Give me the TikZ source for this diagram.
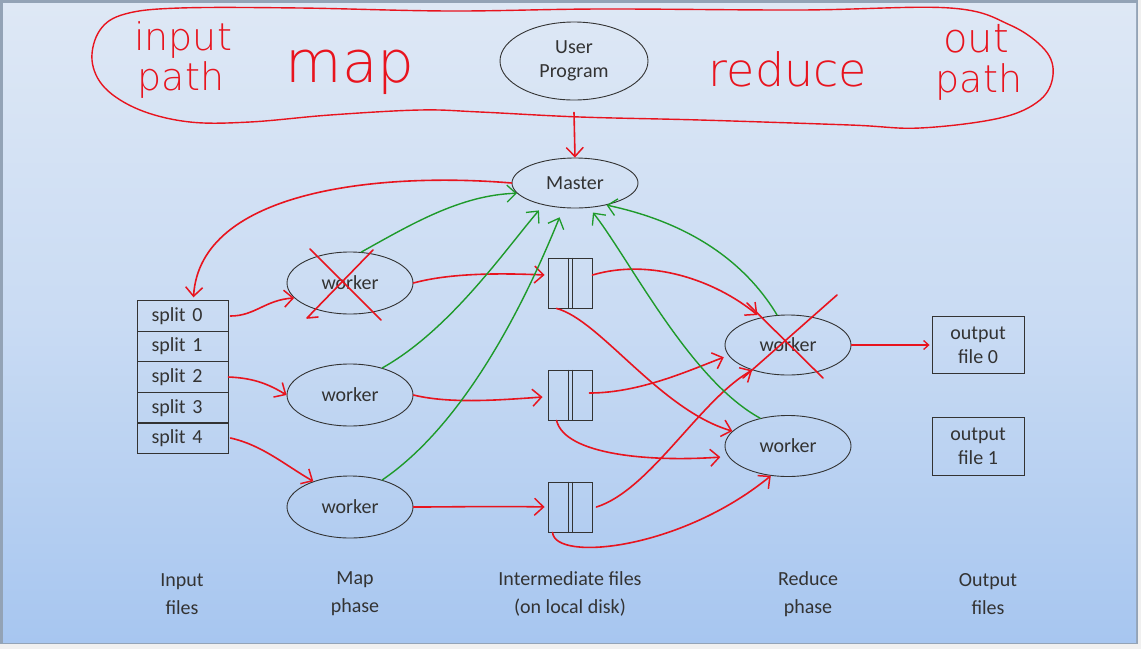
\documentclass[tikz,border=0pt]{standalone}
\usepackage{fontspec}
\setmainfont{Carlito}
\newfontfamily\handfont{DejaVu Sans ExtraLight}
\usetikzlibrary{arrows.meta,shapes.geometric,calc}
\definecolor{pen}{HTML}{E8141E}
\definecolor{gpen}{HTML}{1E9A2A}
\definecolor{slidetop}{HTML}{DEE8F5}
\definecolor{slidemid}{HTML}{C9DBF3}
\definecolor{slidebot}{HTML}{A7C6F0}
\definecolor{framec}{HTML}{93A3B6}
\definecolor{ink}{HTML}{333333}
\tikzset{
  txt/.style={font=\fontsize{20}{24.5}\selectfont, text=ink},
  ell/.style={draw=ink, ellipse, line width=0.9pt, inner sep=0pt, txt},
  box/.style={draw=ink, rectangle, line width=0.9pt, inner sep=0pt, txt},
  lbl/.style={font=\fontsize{20}{28}\selectfont, text=ink, align=center},
  redarr/.style={draw=pen, line width=1.6pt, line cap=round, line join=round,
     -{Straight Barb[length=9pt,width=17pt,line width=1.5pt]}},
  greenarr/.style={draw=gpen, line width=1.4pt, line cap=round, line join=round,
     -{Straight Barb[length=9pt,width=17pt,line width=1.3pt]}},
  redpen/.style={draw=pen, line width=1.6pt, line cap=round, line join=round},
  hand/.style={text=pen, font=\handfont\fontsize{38}{38}\selectfont, inner sep=0pt},
}
\begin{document}
\begin{tikzpicture}[x=1pt,y=-1pt]
\useasboundingbox (0,0) rectangle (1141,649);
% frame and background
\fill[color=black!6] (0,0) rectangle (1141,649);
\fill[framec] (0,0) rectangle (1138,644);
\shade[top color=slidetop, bottom color=slidebot, middle color=slidemid] (3,3) rectangle (1136,642);

% handwritten loop
\draw[redpen, line width=1.4pt] plot[smooth cycle, tension=0.6] coordinates {
 (92,60) (100,30) (125,14) (180,8) (300,8) (450,11) (600,9) (800,10) (950,8)
 (1010,25) (1045,50) (1053,75) (1040,100) (1000,118) (920,128) (850,125)
 (700,120) (580,117) (480,112) (420,110) (330,115) (250,122) (190,122)
 (140,110) (105,88)};

% handwritten words
\node[hand, anchor=base] (hinput) at (183,50) {input};
\node[hand, anchor=base] (hpath) at (181,90) {path};
\node[hand, anchor=base, font=\handfont\fontsize{58}{60}\selectfont] (hmap) at (350,82) {map};
\node[hand, anchor=base, font=\handfont\fontsize{46}{50}\selectfont] (hreduce) at (788,86) {reduce};
\node[hand, anchor=base, font=\handfont\fontsize{40}{40}\selectfont] (hout) at (976,52) {out};
\node[hand, anchor=base] (hpath2) at (979,92) {path};

% main nodes
\node[ell, minimum width=148pt, minimum height=78pt, align=center] (up) at (574,61) {User\\Program};
\node[ell, minimum width=126pt, minimum height=50pt] (master) at (575,183) {Master};

\foreach \i/\y in {0/316,1/346.5,2/377,3/408,4/438}{
  \node[box, minimum width=91pt, minimum height=30.5pt, text width=62pt, align=left, inner xsep=14.5pt] (split\i) at (182.5,\y) {split \i};
}

\node[ell, minimum width=126pt, minimum height=62pt] (mw1) at (350,283) {worker};
\node[ell, minimum width=126pt, minimum height=62pt] (mw2) at (350,395) {worker};
\node[ell, minimum width=126pt, minimum height=62pt] (mw3) at (350,507) {worker};

\foreach \i/\y in {1/283,2/395,3/507}{
  \node[box, minimum width=44pt, minimum height=50pt] (f\i) at (570,\y) {};
  \draw[ink, line width=0.9pt] ([xshift=-2pt]f\i.north) -- ([xshift=-2pt]f\i.south);
  \draw[ink, line width=0.9pt] ([xshift=2pt]f\i.north) -- ([xshift=2pt]f\i.south);
}

\node[ell, minimum width=126pt, minimum height=60pt] (rw1) at (788,345) {worker};
\node[ell, minimum width=126pt, minimum height=61pt] (rw2) at (788,446) {worker};

\node[box, minimum width=92pt, minimum height=57pt, align=center] (out0) at (978,345) {output\\file 0};
\node[box, minimum width=92pt, minimum height=58pt, align=center] (out1) at (978,446) {output\\file 1};

% bottom labels
\node[lbl] (l1) at (182,594) {Input\\files};
\node[lbl] (l2) at (355,594) {Map\\phase};
\node[lbl] (l3) at (570,594) {Intermediate files\\(on local disk)};
\node[lbl] (l4) at (808,594) {Reduce\\phase};
\node[lbl] (l5) at (988,594) {Output\\files};

% red arrows
\draw[redarr] ([yshift=-12pt]up.south) -- (master.north);
\draw[redarr] (master.west) .. controls (380,172) and (200,190) .. ([xshift=11pt,yshift=3pt]split0.north);
\draw[redarr] ([xshift=2pt]split0.east) .. controls (255,316) and (265,300) .. (mw1.195);
\draw[redarr] (split2.east) .. controls (255,378) and (270,385) .. (mw2.west);
\draw[redarr] ([xshift=2pt]split4.east) .. controls (262,445) and (285,465) .. (mw3.145);

\draw[redarr] (mw1.east) .. controls (450,273) and (500,273) .. ([xshift=-3pt,yshift=8pt]f1.west);
\draw[redarr] (mw2.east) .. controls (450,404) and (500,400) .. ([xshift=-5pt,yshift=-2pt]f2.west);
\draw[redarr] (mw3.east) .. controls (450,507) and (500,506) .. ([xshift=-3pt]f3.west);

\draw[redarr, shorten >=4pt] ([yshift=8pt]f1.east) .. controls (650,258) and (715,280) .. (rw1.135);
\draw[redarr] ([xshift=9pt]f1.south west) .. controls (600,320) and (660,410) .. (rw2.165);
\draw[redarr, shorten >=5pt] ([xshift=-3pt,yshift=2pt]f2.east) .. controls (640,393) and (690,370) .. (rw1.190);
\draw[redarr, shorten >=8pt] ([xshift=9pt]f2.south west) .. controls (565,455) and (650,462) .. (rw2.190);
\draw[redarr] ([xshift=4pt]f3.east) .. controls (650,490) and (700,400) .. (rw1.215);
\draw[redarr] ([xshift=5pt]f3.south west) .. controls (555,562) and (680,550) .. (rw2.240);

\draw[redpen, -{Straight Barb[length=5pt,width=9pt,line width=1.3pt]}] (rw1.east) -- ([xshift=-2pt]out0.west);

% green arrows
\draw[greenarr] (mw1.70) .. controls (410,225) and (460,195) .. (master.190);
\draw[greenarr, shorten >=7pt] (mw2.40) .. controls (450,330) and (505,250) .. (master.215);
\draw[greenarr, shorten >=10pt] (mw3.40) .. controls (470,420) and (530,290) .. (master.245);
\draw[greenarr] (rw1.110) .. controls (750,270) and (700,225) .. (master.-35);
\draw[greenarr, shorten >=6pt] (rw2.135) .. controls (690,380) and (630,260) .. (master.-60);

% red crosses
\draw[redpen] (310,249) -- (381,320);
\draw[redpen] (373,250) -- (307,318) -- (318,317);
\draw[redpen] (837,295) -- (743,378);
\draw[redpen] (747,303) -- (823,378);
\end{tikzpicture}
\end{document}
